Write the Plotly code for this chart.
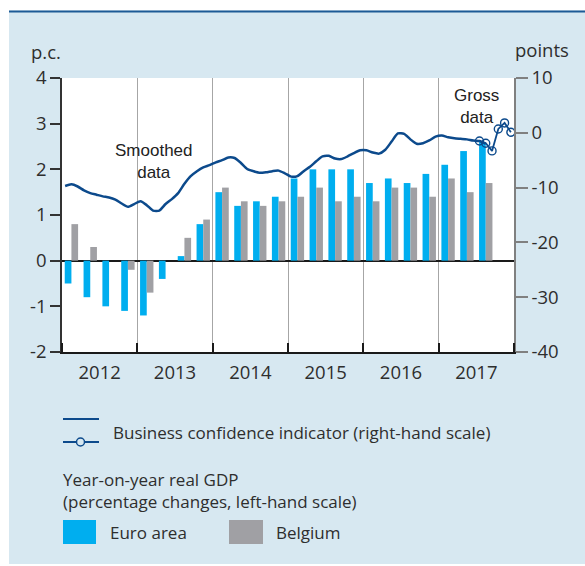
import plotly.graph_objects as go

# ---------------- data ----------------
years = [2012, 2013, 2014, 2015, 2016, 2017]
year_labels = ["2012", "2013", "2014", "2015", "2016", "2017"]

left_ticks = [-2, -1, 0, 1, 2, 3, 4]
left_labels = ["-2", "-1", "0", "1", "2", "3", "4"]
right_ticks = [-40, -30, -20, -10, 0, 10]
right_labels = ["-40", "-30", "-20", "-10", "0", "10"]

# quarterly GDP growth (y-o-y, %), 2012Q1 .. 2017Q3
euro_area = [-0.5, -0.8, -1.0, -1.1,
             -1.2, -0.4, 0.1, 0.8,
             1.5, 1.2, 1.3, 1.4,
             1.8, 2.0, 2.0, 2.0,
             1.7, 1.8, 1.7, 1.9,
             2.1, 2.4, 2.6]
belgium = [0.8, 0.3, 0.0, -0.2,
           -0.7, 0.0, 0.5, 0.9,
           1.6, 1.3, 1.2, 1.3,
           1.4, 1.6, 1.3, 1.4,
           1.3, 1.6, 1.6, 1.4,
           1.8, 1.5, 1.7]

# monthly business confidence indicator, smoothed, Jan 2012 .. Aug 2017
bci_smoothed = [-9.7, -9.4, -9.8, -10.5, -11.0, -11.3, -11.6, -11.8, -12.2, -12.9, -13.5, -13.0,
                -12.5, -13.2, -14.2, -14.2, -13.0, -12.1, -11.0, -9.3, -7.9, -7.0, -6.3, -5.9,
                -5.4, -5.0, -4.5, -4.6, -5.5, -6.6, -7.0, -7.3, -7.2, -7.0, -6.9, -7.4,
                -8.0, -7.9, -7.0, -6.2, -5.2, -4.3, -4.2, -4.7, -4.8, -4.3, -3.7, -3.2,
                -3.2, -3.6, -3.8, -3.1, -1.6, -0.1, -0.2, -1.2, -2.0, -1.9, -1.4, -0.7,
                -0.5, -0.8, -1.0, -1.1, -1.2, -1.4, -1.5, -2.0]
# gross data, Jul 2017 .. Dec 2017
bci_gross = [-1.5, -1.9, -3.3, 0.7, 1.8, 0.1]
gross_start_month = 66  # July 2017, counted from Jan 2012

# ---------------- derived positions ----------------
q_x = [years[0] + (i + 0.5) / 4 for i in range(len(euro_area))]
m_x = [years[0] + (i + 0.5) / 12 for i in range(len(bci_smoothed))]
g_x = [years[0] + (gross_start_month + i + 0.5) / 12 for i in range(len(bci_gross))]
label_x = [y + 0.5 for y in years]

# ---------------- styling ----------------
W, H = 585, 566
L, R, T, B = 62, 71, 78, 214
PW, PH = W - L - R, H - T - B
PANEL = "#d7e8f1"
TXT = "#2e2e2e"
BLUE = "#00aeef"
GREY = "#a0a0a4"
NAVY = "#0c4a8c"
FONT = "Open Sans"
TICK_SIZE = 18.5
TEXT_SIZE = 17


def px(x):
    return (x - L) / PW


def py(y):
    return (H - B - y) / PH


fig = go.Figure()
fig.add_trace(go.Bar(x=q_x, y=euro_area, marker=dict(color=BLUE, line=dict(width=0)),
                     name="Euro area", yaxis="y"))
fig.add_trace(go.Bar(x=q_x, y=belgium, marker=dict(color=GREY, line=dict(width=0)),
                     name="Belgium", yaxis="y"))
fig.add_trace(go.Scatter(x=m_x, y=bci_smoothed, mode="lines",
                         line=dict(color=NAVY, width=2.5, shape="spline", smoothing=0.6),
                         yaxis="y2", name="Business confidence indicator"))
fig.add_trace(go.Scatter(x=g_x, y=bci_gross, mode="lines+markers",
                         line=dict(color=NAVY, width=1.8),
                         marker=dict(symbol="circle-open", size=8, color=NAVY,
                                     line=dict(width=1.4, color=NAVY)),
                         yaxis="y2", name="Gross data"))

shapes = []
# white outer margins
shapes.append(dict(type="rect", xref="paper", yref="paper", x0=px(0), x1=px(9),
                   y0=py(H), y1=py(0), fillcolor="white", line=dict(width=0), layer="below"))
shapes.append(dict(type="rect", xref="paper", yref="paper", x0=px(0), x1=px(W),
                   y0=py(10.5), y1=py(0), fillcolor="white", line=dict(width=0), layer="below"))
shapes.append(dict(type="rect", xref="paper", yref="paper", x0=px(0), x1=px(W),
                   y0=py(H), y1=py(564), fillcolor="white", line=dict(width=0), layer="below"))
# top rule
shapes.append(dict(type="rect", xref="paper", yref="paper", x0=px(9), x1=px(W),
                   y0=py(12.5), y1=py(10.5), fillcolor="#1d5a96", line=dict(width=0), layer="below"))
# legend: business confidence symbol
shapes.append(dict(type="line", xref="paper", yref="paper", x0=px(63), x1=px(99),
                   y0=py(419), y1=py(419), line=dict(color=NAVY, width=2)))
shapes.append(dict(type="line", xref="paper", yref="paper", x0=px(63), x1=px(99),
                   y0=py(442), y1=py(442), line=dict(color=NAVY, width=2)))
shapes.append(dict(type="circle", xref="paper", yref="paper", x0=px(76.5), x1=px(84.5),
                   y0=py(446), y1=py(438), fillcolor=PANEL, line=dict(color=NAVY, width=1.5)))
# legend: bar swatches
shapes.append(dict(type="rect", xref="paper", yref="paper", x0=px(63), x1=px(96),
                   y0=py(544), y1=py(520), fillcolor=BLUE, line=dict(width=0)))
shapes.append(dict(type="rect", xref="paper", yref="paper", x0=px(229), x1=px(263),
                   y0=py(544), y1=py(520), fillcolor=GREY, line=dict(width=0)))

annotations = []


def txt(text, x, y, xanchor="left", size=TEXT_SIZE, family=FONT, color=TXT, align="left"):
    annotations.append(dict(text=text, xref="paper", yref="paper", x=px(x), y=py(y),
                            xanchor=xanchor, yanchor="middle", showarrow=False, align=align,
                            font=dict(family=family, size=size, color=color)))


txt("p.c.", 29, 51, size=TICK_SIZE)
txt("points", 513, 50, size=TICK_SIZE)
txt("Smoothed<br>data", 154, 161, xanchor="center", size=17, family="Liberation Sans",
    color="#222222", align="center")
txt("Gross<br>data", 476, 106, xanchor="center", size=17, family="Liberation Sans",
    color="#222222", align="center")
txt("Business confidence indicator (right-hand scale)", 111, 432)
txt("Year-on-year real GDP", 61, 479)
txt("(percentage changes, left-hand scale)", 61, 501)
txt("Euro area", 108, 532)
txt("Belgium", 274, 532)

fig.update_layout(
    width=W, height=H,
    margin=dict(l=L, r=R, t=T, b=B, pad=0),
    paper_bgcolor=PANEL, plot_bgcolor="white",
    barmode="group", bargap=0.29, bargroupgap=0,
    showlegend=False,
    font=dict(family=FONT, size=TICK_SIZE, color=TXT),
    shapes=shapes, annotations=annotations,
    xaxis=dict(range=[years[0], years[-1] + 1], tickvals=label_x, ticktext=year_labels,
               ticks="", showgrid=False, zeroline=False, ticklabelstandoff=3,
               showline=True, linecolor="#1a1a1a", linewidth=1.5,
               tickfont=dict(family=FONT, size=TICK_SIZE, color=TXT),
               minor=dict(tickmode="linear", tick0=years[0], dtick=1, ticks="inside",
                          ticklen=9, tickwidth=1.5, tickcolor="#1a1a1a",
                          showgrid=True, gridcolor="#a6a6a6", gridwidth=1)),
    yaxis=dict(range=[-2, 4], tickvals=left_ticks, ticktext=left_labels,
               ticks="outside", ticklen=10,
               tickwidth=1.5, tickcolor="#333333", showline=True, linecolor="#333333",
               linewidth=1.5, showgrid=False, zeroline=True, zerolinecolor="#1a1a1a",
               zerolinewidth=1.5, tickfont=dict(family=FONT, size=TICK_SIZE, color=TXT)),
    yaxis2=dict(range=[-40, 10], tickvals=right_ticks, ticktext=right_labels,
                overlaying="y", side="right", ticks="outside",
                ticklen=12, tickwidth=1.5, tickcolor="#808080", showline=True,
                linecolor="#808080", linewidth=1.5, showgrid=False, zeroline=False,
                tickfont=dict(family=FONT, size=TICK_SIZE, color=TXT)),
)

fig.write_html("out.html", config={"displayModeBar": False},
               post_script="document.body.style.margin='0px';")
